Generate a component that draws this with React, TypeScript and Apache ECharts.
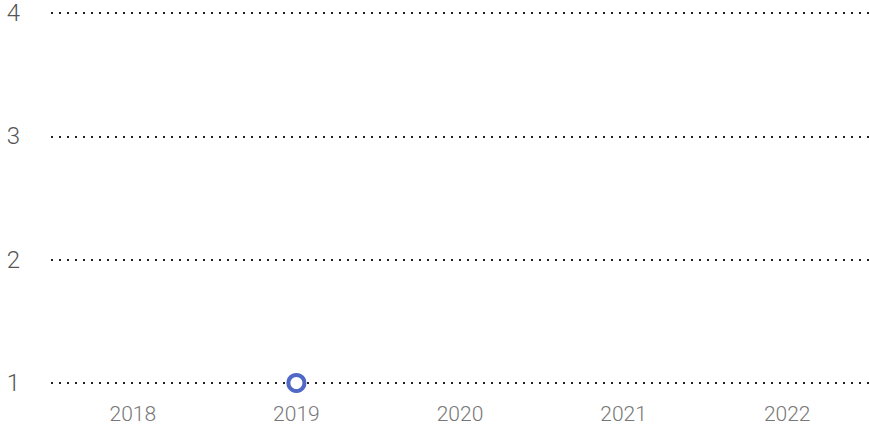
import React, { useEffect, useRef } from "react";
import * as echarts from "echarts";

const years = ["2018", "2019", "2020", "2021", "2022"];
const values: (number | null)[] = [null, 1, null, null, null];
const yTicks = [1, 2, 3, 4];

export default function App() {
  const ref = useRef<HTMLDivElement>(null);
  useEffect(() => {
    if (!ref.current) return;
    const chart = echarts.init(ref.current, undefined, { renderer: "svg" });
    chart.setOption({
      animation: false,
      grid: { left: 51, right: 0, top: 13, bottom: 45 },
      xAxis: {
        type: "category",
        data: years,
        axisLine: { show: false },
        axisTick: { show: false },
        axisLabel: { color: "#777", fontSize: 21, fontFamily: "Roboto", fontWeight: 300, margin: 20 },
        splitLine: { show: false },
      },
      yAxis: {
        type: "value",
        min: yTicks[0],
        max: yTicks[yTicks.length - 1],
        interval: 1,
        axisLine: { show: false },
        axisTick: { show: false },
        axisLabel: { color: "#555", fontSize: 24, fontFamily: "Roboto", fontWeight: 300, margin: 31, padding: [8, 0, 0, 0] },
        splitLine: { show: true, lineStyle: { color: "#222", width: 2, type: [2, 6] } },
      },
      series: [
        {
          type: "line",
          data: values,
          symbol: "circle",
          symbolSize: 16,
          showSymbol: true,
          itemStyle: { color: "#fff", borderColor: "#5068c6", borderWidth: 4 },
          lineStyle: { color: "#5068c6", width: 2 },
          connectNulls: false,
        },
      ],
    });
    return () => chart.dispose();
  }, []);
  return <div ref={ref} style={{ position: "absolute", left: 0, top: 0, width: 869, height: 428 }} />;
}
